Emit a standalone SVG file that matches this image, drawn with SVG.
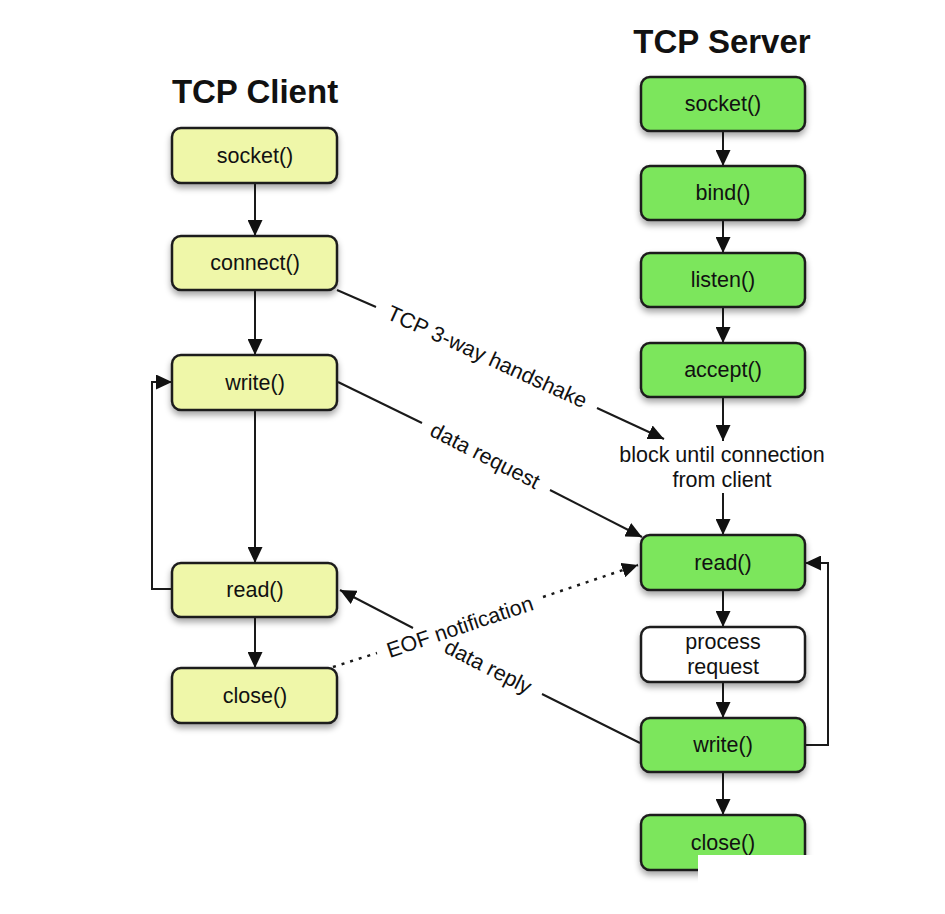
<svg xmlns="http://www.w3.org/2000/svg" width="945" height="914" viewBox="0 0 945 914">
<style>
.box{stroke:#1e1e1e;stroke-width:2.5;filter:url(#sh)}
.cl{fill:#eff7a9}
.sv{fill:#7be65b}
.pr{fill:#ffffff}
.lbl{font-family:"Liberation Sans",Arial,sans-serif;font-size:21.5px;fill:#111;text-anchor:middle}
.ttl{font-family:"Liberation Sans",Arial,sans-serif;font-size:33px;font-weight:bold;fill:#111;text-anchor:middle}
.ln{stroke:#1a1a1a;stroke-width:2;fill:none}
.arr{marker-end:url(#ah)}
.dot{stroke-dasharray:3 6;stroke-width:2.5}
</style>
<defs>
<filter id="sh" x="-20%" y="-20%" width="140%" height="160%">
<feDropShadow dx="0" dy="4" stdDeviation="3" flood-color="#000" flood-opacity="0.35"/>
</filter>
<marker id="ah" markerUnits="userSpaceOnUse" markerWidth="17" markerHeight="15" refX="16" refY="7.5" orient="auto">
<path d="M0,0 L16,7.5 L0,15 Z" fill="#111"/>
</marker>
</defs>
<rect width="945" height="914" fill="#fff"/>

<text class="ttl" x="255" y="103">TCP Client</text>
<text class="ttl" x="722" y="53">TCP Server</text>

<g id="connectors">
<line class="ln arr" x1="255" y1="183" x2="255" y2="236"/>
<line class="ln arr" x1="255" y1="290" x2="255" y2="355"/>
<line class="ln arr" x1="255" y1="410" x2="255" y2="563"/>
<line class="ln arr" x1="255" y1="617" x2="255" y2="668"/>
<polyline class="ln arr" points="172,589 152,589 152,382 172,382"/>
<line class="ln arr" x1="723" y1="131" x2="723" y2="166"/>
<line class="ln arr" x1="723" y1="220" x2="723" y2="253"/>
<line class="ln arr" x1="723" y1="307" x2="723" y2="343"/>
<line class="ln arr" x1="723" y1="397" x2="723" y2="441"/>
<line class="ln arr" x1="723" y1="493" x2="723" y2="535"/>
<line class="ln arr" x1="723" y1="590" x2="723" y2="627"/>
<line class="ln arr" x1="723" y1="682" x2="723" y2="718"/>
<line class="ln arr" x1="723" y1="772" x2="723" y2="815"/>
<polyline class="ln arr" points="805,745 828,745 828,563 805,563"/>
<line class="ln" x1="337" y1="290" x2="376" y2="307"/>
<line class="ln arr" x1="597" y1="408" x2="664" y2="439"/>
<line class="ln" x1="338" y1="382" x2="422" y2="423"/>
<line class="ln arr" x1="550" y1="490" x2="642" y2="537"/>
<line class="ln" x1="640" y1="743" x2="542" y2="694"/>
<line class="ln arr" x1="413" y1="628" x2="340" y2="590"/>
<line class="ln dot" x1="333" y1="667" x2="377" y2="653"/>
<line class="ln dot arr" x1="543" y1="597" x2="638" y2="565"/>
<text class="lbl" transform="translate(487,357) rotate(24.6)" y="7">TCP 3-way handshake</text>
<text class="lbl" transform="translate(485,456) rotate(27)" y="7">data request</text>
<text class="lbl" transform="translate(488,667) rotate(27)" y="7">data reply</text>
<text class="lbl" transform="translate(460,627) rotate(-18.5)" y="7">EOF notification</text>
</g>

<g id="c-socket"><rect class="box cl" x="172" y="128" width="165" height="55" rx="9"/><text class="lbl" x="255" y="163">socket()</text></g>
<g id="c-connect"><rect class="box cl" x="172" y="236" width="165" height="54" rx="9"/><text class="lbl" x="255" y="270">connect()</text></g>
<g id="c-write"><rect class="box cl" x="172" y="355" width="165" height="55" rx="9"/><text class="lbl" x="255" y="390">write()</text></g>
<g id="c-read"><rect class="box cl" x="172" y="563" width="165" height="54" rx="9"/><text class="lbl" x="255" y="597">read()</text></g>
<g id="c-close"><rect class="box cl" x="172" y="668" width="165" height="55" rx="9"/><text class="lbl" x="255" y="703">close()</text></g>

<g id="s-socket"><rect class="box sv" x="641" y="77" width="164" height="54" rx="9"/><text class="lbl" x="723" y="111">socket()</text></g>
<g id="s-bind"><rect class="box sv" x="641" y="166" width="164" height="54" rx="9"/><text class="lbl" x="723" y="200">bind()</text></g>
<g id="s-listen"><rect class="box sv" x="641" y="253" width="164" height="54" rx="9"/><text class="lbl" x="723" y="287">listen()</text></g>
<g id="s-accept"><rect class="box sv" x="641" y="343" width="164" height="54" rx="9"/><text class="lbl" x="723" y="377">accept()</text></g>
<g id="s-block"><text class="lbl" x="722" y="462">block until connection</text><text class="lbl" x="722" y="487">from client</text></g>
<g id="s-read"><rect class="box sv" x="641" y="535" width="164" height="55" rx="9"/><text class="lbl" x="723" y="570">read()</text></g>
<g id="s-process"><rect class="box pr" x="641" y="627" width="164" height="55" rx="9"/><text class="lbl" x="723" y="649">process</text><text class="lbl" x="723" y="674">request</text></g>
<g id="s-write"><rect class="box sv" x="641" y="718" width="164" height="54" rx="9"/><text class="lbl" x="723" y="752">write()</text></g>
<g id="s-close"><rect class="box sv" x="641" y="815" width="164" height="55" rx="9"/><text class="lbl" x="723" y="850">close()</text></g>

<rect x="698" y="855" width="140" height="59" fill="#fff"/>
</svg>
